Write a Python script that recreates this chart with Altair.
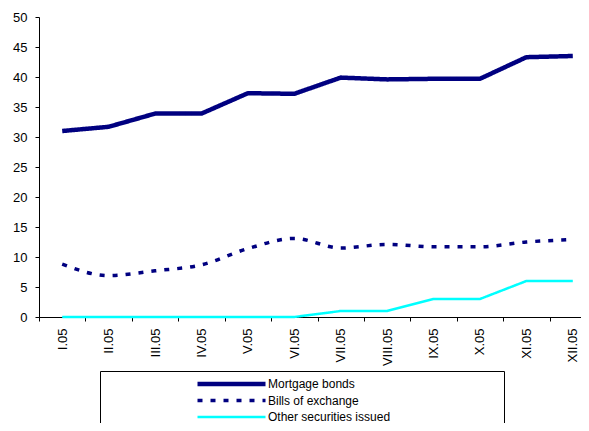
import altair as alt
import pandas as pd

months = ["I.05", "II.05", "III.05", "IV.05", "V.05", "VI.05",
          "VII.05", "VIII.05", "IX.05", "X.05", "XI.05", "XII.05"]
mortgage = [31.0, 31.7, 33.9, 33.9, 37.3, 37.2, 39.9, 39.6, 39.7, 39.7, 43.3, 43.5]
bills = [8.8, 6.9, 7.7, 8.7, 11.4, 13.1, 11.5, 12.1, 11.7, 11.7, 12.5, 12.9]
other = [0, 0, 0, 0, 0, 0, 1.0, 1.0, 3.0, 3.0, 6.0, 6.0]
series = ["Mortgage bonds", "Bills of exchange", "Other securities issued"]
colors = ["#000080", "#000080", "#00FFFF"]

rows = []
for name, vals in zip(series, [mortgage, bills, other]):
    for m, v in zip(months, vals):
        rows.append({"month": m, "value": v, "series": name})
df = pd.DataFrame(rows)

FONT = "Liberation Sans"

legend = alt.Legend(
    title="\u00a0", titleOrient="right", titlePadding=109, titleOpacity=0,
    orient="none", legendX=61, legendY=354,
    strokeColor="black", fillColor="white", padding=5,
    symbolType="stroke", symbolSize=4624, symbolOffset=90,
    labelOffset=0, clipHeight=16, rowPadding=0.5,
    labelFont=FONT, labelFontSize=12, labelColor="black", labelLimit=400,
)

enc = dict(
    x=alt.X("month:N", sort=months,
            scale=alt.Scale(domain=months, paddingInner=0, paddingOuter=0, range=[0, 557]),
            axis=alt.Axis(title=None, labelAngle=270, labelAlign="right", labelBaseline="middle",
                          tickBand="extent", tickSize=4, labelPadding=7,
                          labelFont=FONT, labelFontSize=13, labelColor="black",
                          domainColor="black", tickColor="black", grid=False)),
    y=alt.Y("value:Q", scale=alt.Scale(domain=[0, 50], nice=False),
            axis=alt.Axis(title=None, values=list(range(0, 55, 5)), tickSize=4, labelPadding=8,
                          labelFont=FONT, labelFontSize=13, labelColor="black",
                          domainColor="black", tickColor="black", grid=False)),
    color=alt.Color("series:N", sort=series,
                    scale=alt.Scale(domain=series, range=colors), legend=legend),
    strokeDash=alt.StrokeDash("series:N", sort=series,
                              scale=alt.Scale(domain=series, range=[[1, 0], [5, 8], [1, 0]]),
                              legend=legend),
    strokeWidth=alt.StrokeWidth("series:N", sort=series,
                                scale=alt.Scale(domain=series, range=[4.5, 2.5, 5]),
                                legend=legend),
)

base = alt.Chart(df)
solid = base.transform_filter(alt.datum.series != "Bills of exchange").mark_line(
    interpolate="linear", strokeCap="butt", strokeJoin="round").encode(**enc)
dashed = base.transform_filter(alt.datum.series == "Bills of exchange").mark_line(
    interpolate="monotone", strokeCap="butt").encode(**enc)

chart = alt.layer(solid, dashed).properties(
    width=542, height=300,
    autosize=alt.AutoSizeParams(type="none"),
    padding={"left": 31, "top": 9, "right": 0, "bottom": 106},
).configure_view(stroke=None)

chart.save("out.html", embed_options={"renderer": "svg", "actions": False})
